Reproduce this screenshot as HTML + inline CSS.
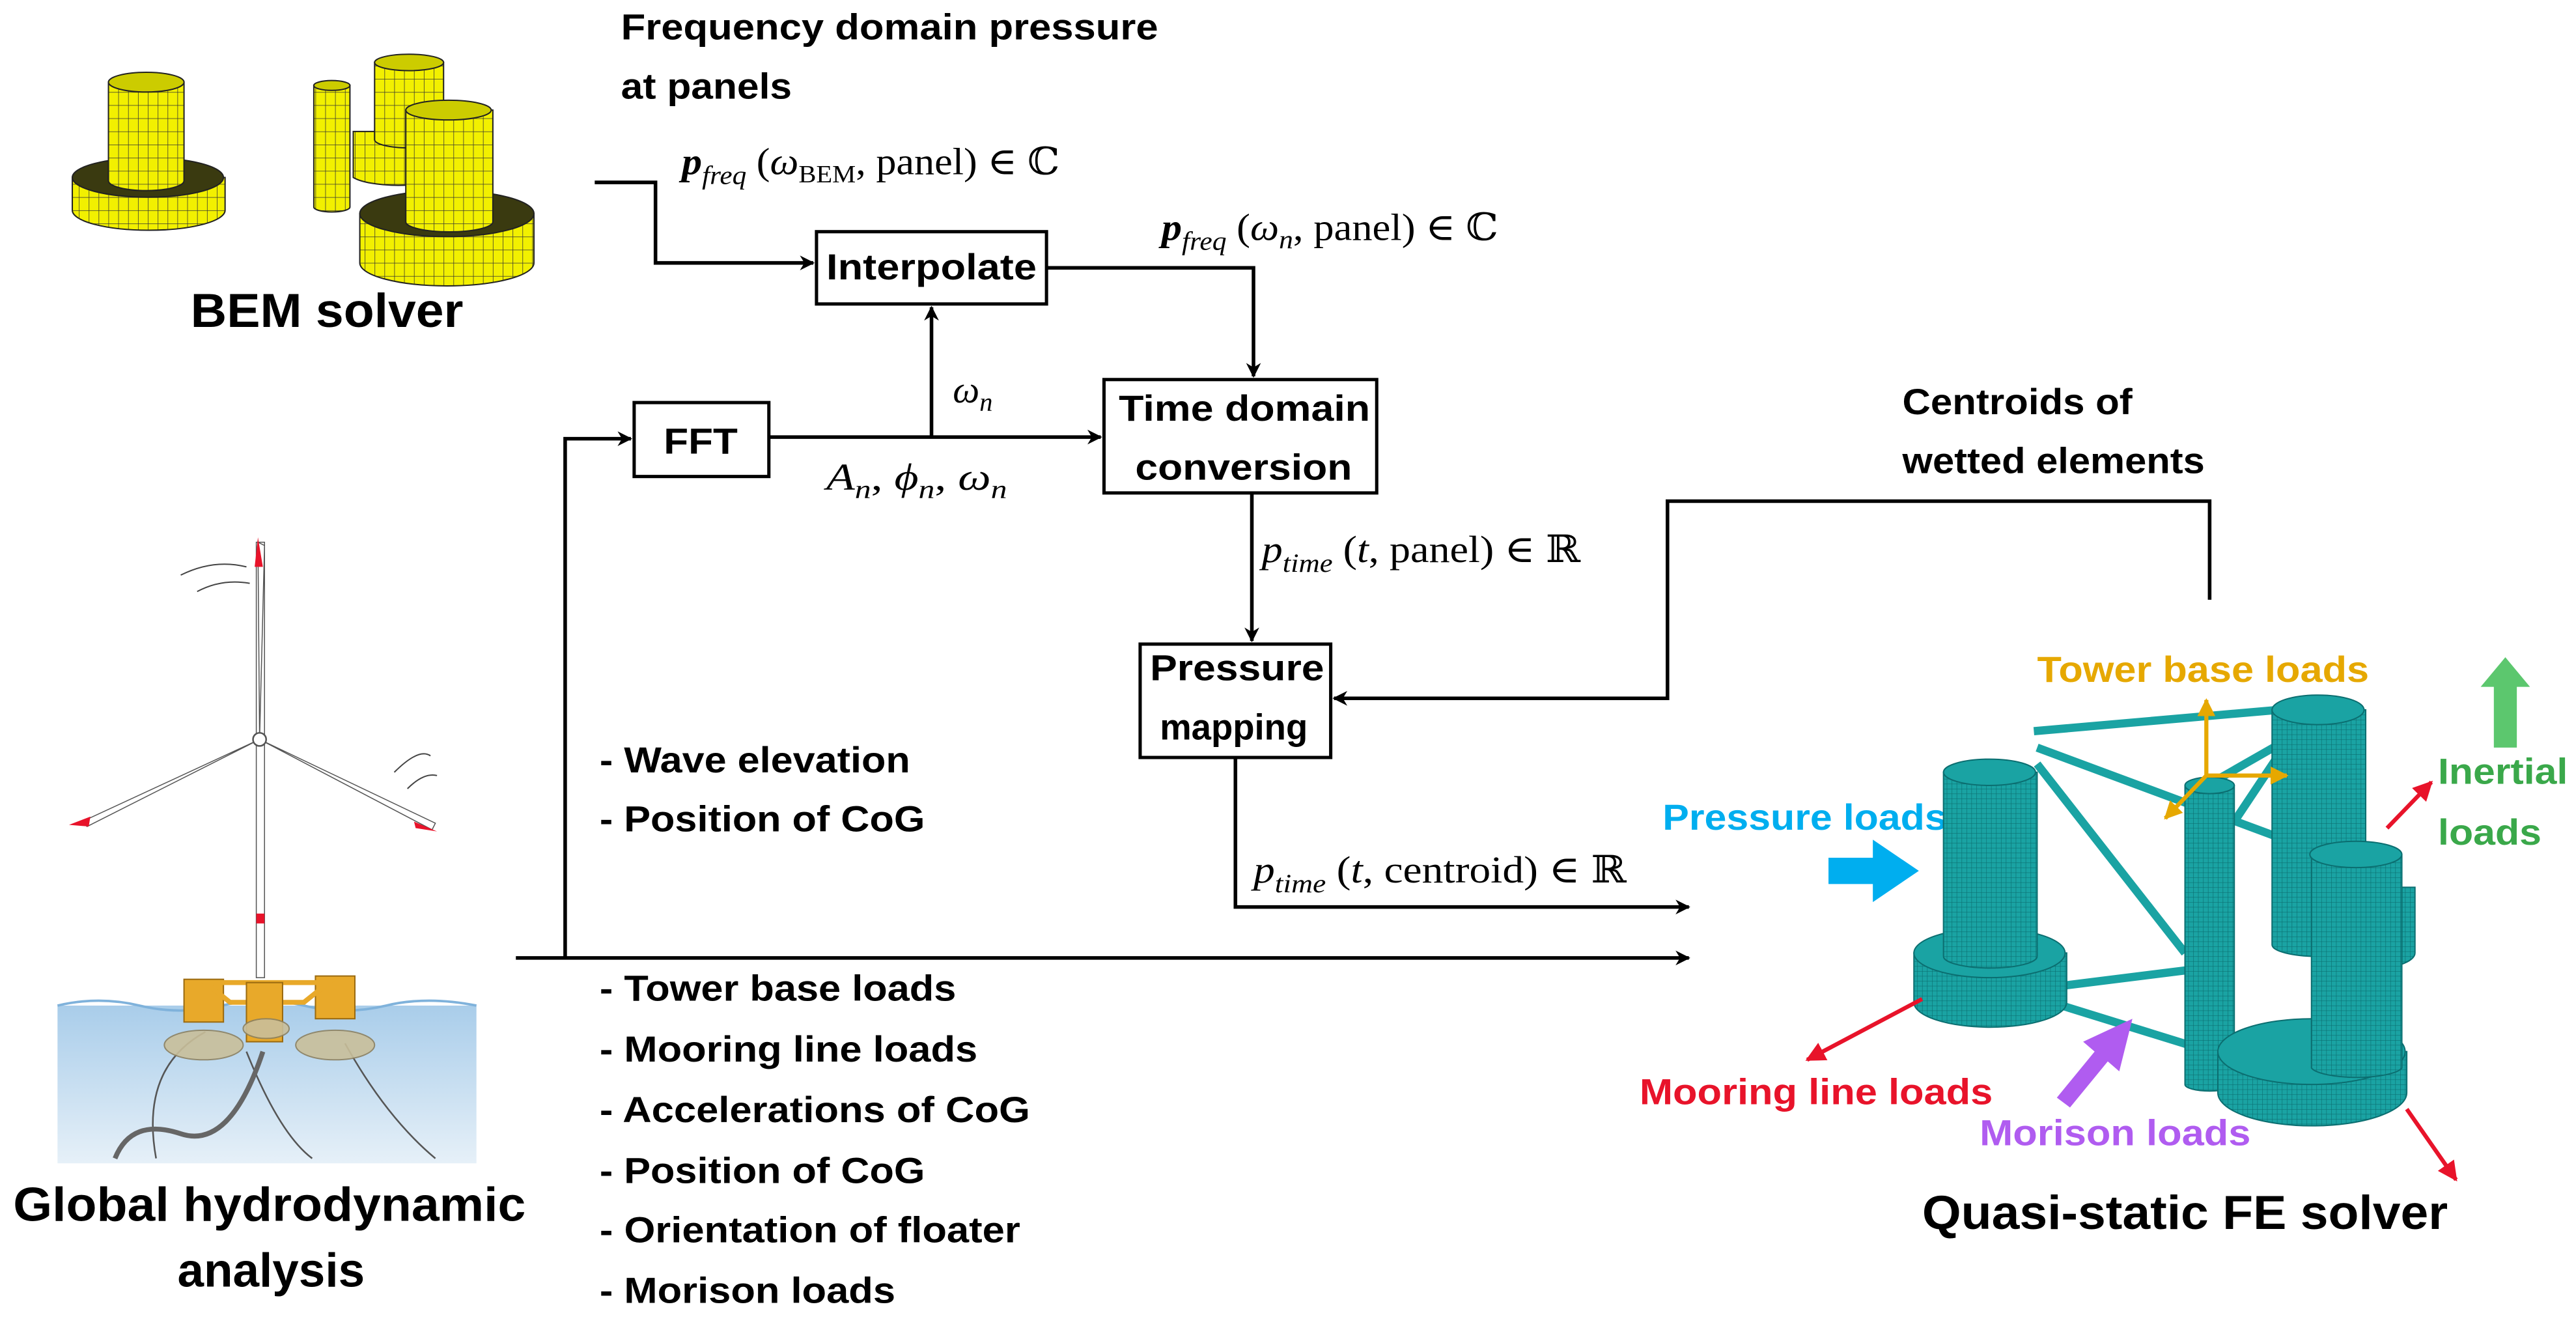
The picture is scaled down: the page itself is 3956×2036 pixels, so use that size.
<!DOCTYPE html>
<html><head><meta charset="utf-8"><style>html,body{margin:0;padding:0;background:#fff}svg{display:block}</style></head><body>
<svg width="3956" height="2036" viewBox="0 0 1568 807" xmlns="http://www.w3.org/2000/svg">
<defs>
<marker id="ah" viewBox="0 0 10 10" refX="9" refY="5" markerWidth="9" markerHeight="9" markerUnits="userSpaceOnUse" orient="auto"><path d="M0,0 L10,5 L0,10 L3,5 z" fill="#000"/></marker>
<marker id="ar" viewBox="0 0 10 10" refX="9" refY="5" markerWidth="12" markerHeight="12" markerUnits="userSpaceOnUse" orient="auto"><path d="M0,0 L10,5 L0,10 z" fill="#e8132a"/></marker>
<marker id="ao" viewBox="0 0 10 10" refX="9" refY="5" markerWidth="11" markerHeight="11" markerUnits="userSpaceOnUse" orient="auto"><path d="M0,0 L10,5 L0,10 z" fill="#e6a800"/></marker>
<linearGradient id="sea" x1="0" y1="0" x2="0" y2="1"><stop offset="0" stop-color="#a9cdea"/><stop offset="1" stop-color="#e6f0f8"/></linearGradient>
<pattern id="ym" width="6" height="8" patternUnits="userSpaceOnUse"><rect width="6" height="8" fill="#f2f000"/><path d="M0,0H6M0,0V8" stroke="#333" stroke-width="0.6"/></pattern>
<pattern id="tm" width="3" height="3" patternUnits="userSpaceOnUse"><rect width="3" height="3" fill="#1aa3a3"/><path d="M0,0H3M0,0V3" stroke="#0b6e70" stroke-width="0.5"/></pattern>
</defs>
<g font-family="Liberation Sans, sans-serif" font-weight="bold" fill="#000">
<text x="378" y="24" font-size="22" textLength="327" lengthAdjust="spacingAndGlyphs">Frequency domain pressure</text>
<text x="378" y="60" font-size="22" textLength="104" lengthAdjust="spacingAndGlyphs">at panels</text>
<text x="116" y="199" font-size="29" textLength="166" lengthAdjust="spacingAndGlyphs">BEM solver</text>
<text x="8" y="743" font-size="29" textLength="312" lengthAdjust="spacingAndGlyphs">Global hydrodynamic</text>
<text x="108" y="783" font-size="29" textLength="114" lengthAdjust="spacingAndGlyphs">analysis</text>
<text x="1170" y="748" font-size="29" textLength="320" lengthAdjust="spacingAndGlyphs">Quasi-static FE solver</text>
<text x="1158" y="252" font-size="22" textLength="140" lengthAdjust="spacingAndGlyphs">Centroids of</text>
<text x="1158" y="288" font-size="22" textLength="184" lengthAdjust="spacingAndGlyphs">wetted elements</text>
<g font-size="22">
<text x="365" y="470" textLength="189" lengthAdjust="spacingAndGlyphs">- Wave elevation</text>
<text x="365" y="506" textLength="198" lengthAdjust="spacingAndGlyphs">- Position of CoG</text>
<text x="365" y="609" textLength="217" lengthAdjust="spacingAndGlyphs">- Tower base loads</text>
<text x="365" y="646" textLength="230" lengthAdjust="spacingAndGlyphs">- Mooring line loads</text>
<text x="365" y="683" textLength="262" lengthAdjust="spacingAndGlyphs">- Accelerations of CoG</text>
<text x="365" y="720" textLength="198" lengthAdjust="spacingAndGlyphs">- Position of CoG</text>
<text x="365" y="756" textLength="256" lengthAdjust="spacingAndGlyphs">- Orientation of floater</text>
<text x="365" y="793" textLength="180" lengthAdjust="spacingAndGlyphs">- Morison loads</text>
</g>
<text x="1240" y="415" font-size="22" fill="#e6a800" textLength="202" lengthAdjust="spacingAndGlyphs">Tower base loads</text>
<text x="1012" y="505" font-size="22" fill="#00aeef" textLength="173" lengthAdjust="spacingAndGlyphs">Pressure loads</text>
<text x="1484" y="477" font-size="22" fill="#3aa84a" textLength="79" lengthAdjust="spacingAndGlyphs">Inertial</text>
<text x="1484" y="514" font-size="22" fill="#3aa84a" textLength="63" lengthAdjust="spacingAndGlyphs">loads</text>
<text x="998" y="672" font-size="22" fill="#e8132a" textLength="215" lengthAdjust="spacingAndGlyphs">Mooring line loads</text>
<text x="1205" y="697" font-size="22" fill="#b05cf0" textLength="165" lengthAdjust="spacingAndGlyphs">Morison loads</text>
</g>
<g fill="#fff" stroke="#000" stroke-width="2">
<rect x="497" y="141" width="140" height="44"/>
<rect x="672" y="231" width="166" height="69"/>
<rect x="386" y="245" width="82" height="45"/>
<rect x="694" y="392" width="116" height="69"/>
</g>
<g font-family="Liberation Sans, sans-serif" font-weight="bold" font-size="22">
<text x="503" y="170" textLength="128" lengthAdjust="spacingAndGlyphs">Interpolate</text>
<text x="681" y="256" textLength="153" lengthAdjust="spacingAndGlyphs">Time domain</text>
<text x="691" y="292" textLength="132" lengthAdjust="spacingAndGlyphs">conversion</text>
<text x="404" y="276" textLength="45" lengthAdjust="spacingAndGlyphs">FFT</text>
<text x="700" y="414" textLength="106" lengthAdjust="spacingAndGlyphs">Pressure</text>
<text x="706" y="450" textLength="90" lengthAdjust="spacingAndGlyphs">mapping</text>
</g>
<g fill="none" stroke="#000" stroke-width="2.2">
<path d="M362,111 H399 V160 H495" marker-end="url(#ah)"/>
<path d="M637,163 H763 V229" marker-end="url(#ah)"/>
<path d="M468,266 H670" marker-end="url(#ah)"/>
<path d="M567,266 V187" marker-end="url(#ah)"/>
<path d="M344,583 V267 H384" marker-end="url(#ah)"/>
<path d="M762,300 V390" marker-end="url(#ah)"/>
<path d="M1345,365 V305 H1015 V425 H812" marker-end="url(#ah)"/>
<path d="M752,461 V552 H1028" marker-end="url(#ah)"/>
<path d="M314,583 H1028" marker-end="url(#ah)"/>
</g>
<g font-family="Liberation Serif, DejaVu Serif, serif" font-size="23">
<text x="415" y="106" textLength="230" lengthAdjust="spacingAndGlyphs"><tspan font-weight="bold" font-style="italic">p</tspan><tspan font-style="italic" font-size="16" dy="6">freq</tspan><tspan dy="-6"> (</tspan><tspan font-style="italic">ω</tspan><tspan font-size="15" dy="5">BEM</tspan><tspan dy="-5">, panel) ∈ ℂ</tspan></text>
<text x="707" y="146" textLength="205" lengthAdjust="spacingAndGlyphs"><tspan font-weight="bold" font-style="italic">p</tspan><tspan font-style="italic" font-size="16" dy="6">freq</tspan><tspan dy="-6"> (</tspan><tspan font-style="italic">ω</tspan><tspan font-style="italic" font-size="16" dy="5">n</tspan><tspan dy="-5">, panel) ∈ ℂ</tspan></text>
<text x="580" y="245"><tspan font-style="italic">ω</tspan><tspan font-style="italic" font-size="16" dy="5">n</tspan></text>
<text x="503" y="298" textLength="110" lengthAdjust="spacingAndGlyphs"><tspan font-style="italic">A</tspan><tspan font-style="italic" font-size="16" dy="5">n</tspan><tspan dy="-5">, </tspan><tspan font-style="italic">ϕ</tspan><tspan font-style="italic" font-size="16" dy="5">n</tspan><tspan dy="-5">, </tspan><tspan font-style="italic">ω</tspan><tspan font-style="italic" font-size="16" dy="5">n</tspan></text>
<text x="768" y="342" textLength="194" lengthAdjust="spacingAndGlyphs"><tspan font-style="italic">p</tspan><tspan font-style="italic" font-size="16" dy="6">time</tspan><tspan dy="-6"> (</tspan><tspan font-style="italic">t</tspan><tspan>, panel) ∈ ℝ</tspan></text>
<text x="763" y="537" textLength="227" lengthAdjust="spacingAndGlyphs"><tspan font-style="italic">p</tspan><tspan font-style="italic" font-size="16" dy="6">time</tspan><tspan dy="-6"> (</tspan><tspan font-style="italic">t</tspan><tspan>, centroid) ∈ ℝ</tspan></text>
</g>
<g stroke="#222" stroke-width="0.8">
<path d="M44,108 V128 A46,12 0 0 0 137,128 V108 Z" fill="url(#ym)"/><ellipse cx="90" cy="108" rx="46" ry="12" fill="#3a3a10"/>
<path d="M66,50 V110 A23,6 0 0 0 112,110 V50 Z" fill="url(#ym)"/><ellipse cx="89" cy="50" rx="23" ry="6" fill="#cccc00"/>
<path d="M191,52 V126 A11,3 0 0 0 213,126 V52 Z" fill="url(#ym)"/><ellipse cx="202" cy="52" rx="11" ry="3" fill="#cccc00"/>
<path d="M215,80 V108 A30,8 0 0 0 270,108 V80 Z" fill="url(#ym)"/>
<path d="M228,38 V85 A21,5 0 0 0 270,85 V38 Z" fill="url(#ym)"/><ellipse cx="249" cy="38" rx="21" ry="5" fill="#cccc00"/>
<path d="M219,130 V160 A53,14 0 0 0 325,160 V130 Z" fill="url(#ym)"/><ellipse cx="272" cy="130" rx="53" ry="14" fill="#3a3a10"/>
<path d="M247,67 V135 A26,6 0 0 0 300,135 V67 Z" fill="url(#ym)"/><ellipse cx="273" cy="67" rx="26" ry="6" fill="#cccc00"/>
</g>
<rect x="35" y="612" width="255" height="96" fill="url(#sea)"/>
<path d="M35,612 Q60,606 85,612 T135,612 T185,612 T235,612 T290,612" fill="none" stroke="#7fb2db" stroke-width="1.5"/>
<path d="M95,705 Q85,650 125,628 M150,640 Q170,690 190,705 M210,635 Q235,680 265,705" fill="none" stroke="#555" stroke-width="1"/>
<path d="M70,705 Q80,680 110,690 Q140,700 160,640" fill="none" stroke="#666" stroke-width="3"/>
<rect x="156" y="330" width="5" height="265" fill="#fff" stroke="#555" stroke-width="0.6"/>
<rect x="156" y="556" width="5" height="6" fill="#e8132a"/>
<path d="M158,450 L157,330 L161,332 Z" fill="#fff" stroke="#555" stroke-width="0.6"/>
<path d="M157,327 L160,345 L155,345 Z" fill="#e8132a"/>
<path d="M158,450 L50,500 L53,503 Z" fill="#fff" stroke="#555" stroke-width="0.6"/>
<path d="M158,450 L263,505 L265,501 Z" fill="#fff" stroke="#555" stroke-width="0.6"/>
<path d="M42,502 L55,497 L54,503Z M252,500 L266,506 L253,504Z" fill="#e8132a"/>
<path d="M110,350 Q130,340 150,345 M120,360 Q135,352 152,355 M240,470 Q255,455 262,460 M248,480 Q258,470 266,472" fill="none" stroke="#444" stroke-width="0.8"/>
<ellipse cx="158" cy="450" rx="4" ry="4" fill="#fff" stroke="#555"/>
<g fill="#e8a92a" stroke="#9a6a10" stroke-width="0.8">
<rect x="112" y="596" width="24" height="26"/><rect x="192" y="594" width="24" height="26"/>
<path d="M125,598 L200,598 L185,610 L140,610 Z" fill="none" stroke="#e8a92a" stroke-width="3"/>
<rect x="150" y="598" width="22" height="36"/>
</g>
<g fill="#c9bf9a" stroke="#8c8060" stroke-width="0.8" opacity="0.9">
<ellipse cx="124" cy="636" rx="24" ry="9"/><ellipse cx="204" cy="636" rx="24" ry="9"/><ellipse cx="162" cy="626" rx="14" ry="6"/>
</g>
<g stroke="#0b6e70" stroke-width="0.8">
<path d="M1238,445 L1410,430 M1240,455 L1415,520 M1240,465 L1330,580 M1255,600 L1335,590 M1255,612 L1410,660 M1360,500 L1400,440 M1340,480 L1410,440" stroke="#1aa3a3" stroke-width="5" fill="none"/>
<path d="M1383,432 V575 A28,7 0 0 0 1440,575 V432 Z" fill="url(#tm)"/><ellipse cx="1411" cy="432" rx="28" ry="9" fill="#1aa3a3"/>
<path d="M1410,540 V580 A30,10 0 0 0 1470,580 V540 Z" fill="url(#tm)"/>
<path d="M1330,478 V660 A15,4 0 0 0 1360,660 V478 Z" fill="url(#tm)"/><ellipse cx="1345" cy="478" rx="15" ry="5" fill="#1aa3a3"/>
<path d="M1165,580 V610 A46,15 0 0 0 1258,610 V580 Z" fill="url(#tm)"/><ellipse cx="1211" cy="580" rx="46" ry="15" fill="#1aa3a3"/>
<path d="M1183,470 V582 A28,7 0 0 0 1240,582 V470 Z" fill="url(#tm)"/><ellipse cx="1211" cy="470" rx="28" ry="8" fill="#1aa3a3"/>
<path d="M1350,640 V665 A57,20 0 0 0 1465,665 V640 Z" fill="url(#tm)"/><ellipse cx="1407" cy="640" rx="57" ry="20" fill="#1aa3a3"/>
<path d="M1407,520 V650 A28,7 0 0 0 1462,650 V520 Z" fill="url(#tm)"/><ellipse cx="1434" cy="520" rx="28" ry="8" fill="#1aa3a3"/>
</g>
<path d="M1113,522 H1140 V511 L1168,530 L1140,549 V538 H1113 Z" fill="#00aeef"/>
<path d="M1518,455 V418 H1510 L1525,400 L1540,418 H1532 V455 Z" fill="#5cc76e"/>
<path d="M1252,668 L1275,640 L1268,634 L1298,620 L1290,652 L1283,646 L1260,674 Z" fill="#b05cf0"/>
<g stroke="#e8132a" stroke-width="2.5" fill="none">
<path d="M1170,608 L1100,645" marker-end="url(#ar)"/>
<path d="M1453,504 L1480,476" marker-end="url(#ar)"/>
<path d="M1465,675 L1495,718" marker-end="url(#ar)"/>
</g>
<g stroke="#e6a800" stroke-width="2.5" fill="none">
<path d="M1343,472 V426" marker-end="url(#ao)"/>
<path d="M1343,472 H1392" marker-end="url(#ao)"/>
<path d="M1343,472 L1318,498" marker-end="url(#ao)"/>
</g>
</svg>
</body></html>
